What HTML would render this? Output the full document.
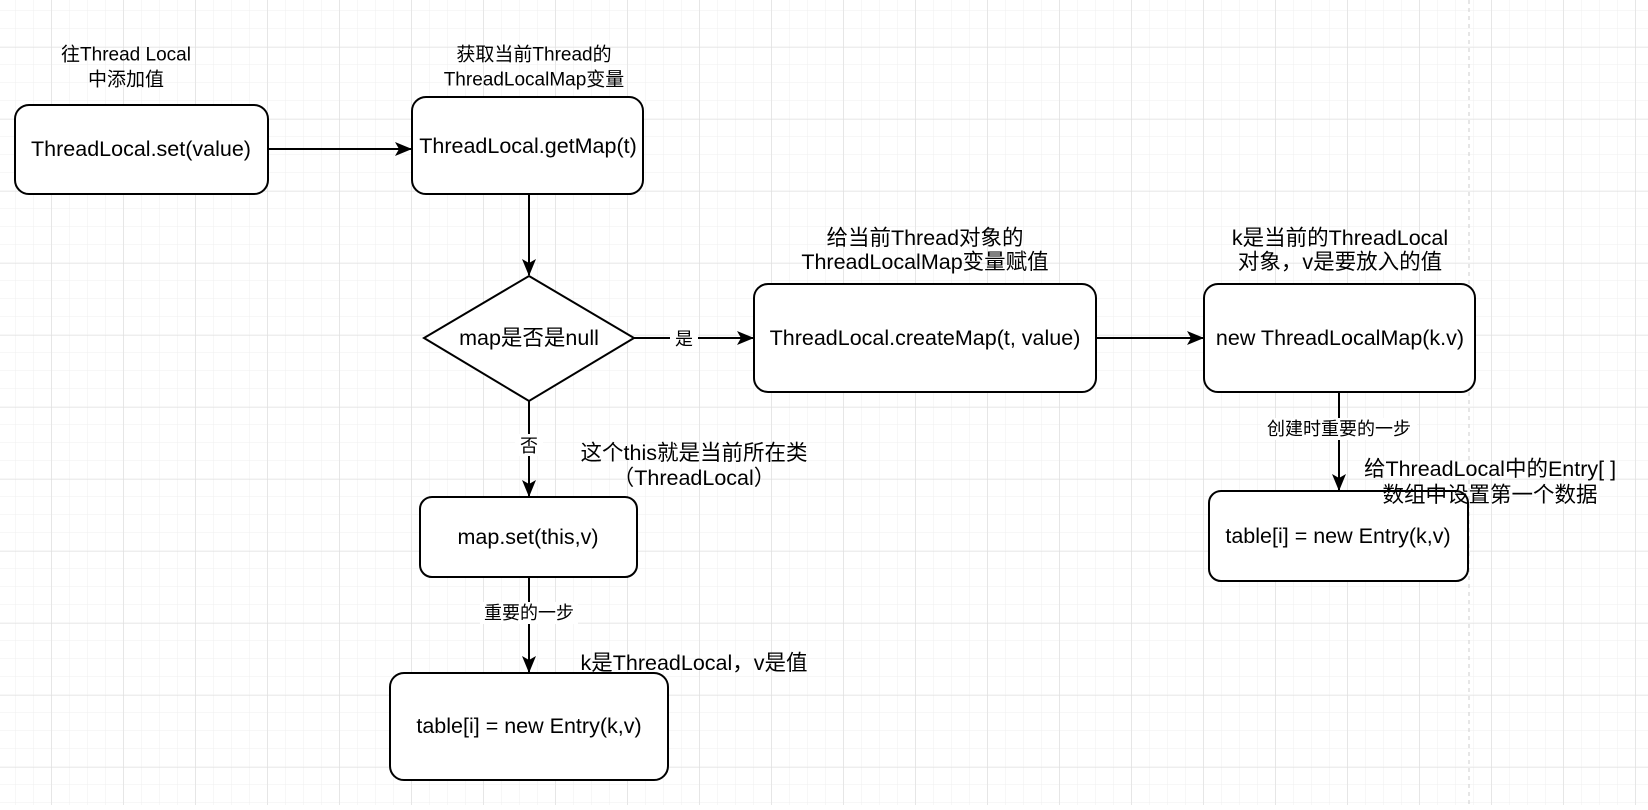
<!DOCTYPE html><html><head><meta charset="utf-8"><style>
body{margin:0;width:1648px;height:805px;overflow:hidden;background:#fff;font-family:"Liberation Sans","Noto Sans CJK SC",sans-serif;}
</style></head><body>
<svg width="1648" height="805" xmlns="http://www.w3.org/2000/svg" font-family="Liberation Sans, Noto Sans CJK SC, sans-serif">
<defs>
<pattern id="g" x="15.5" y="11" width="18" height="18" patternUnits="userSpaceOnUse"><path d="M18 0V18M0 18H18" fill="none" stroke="#efefef" stroke-width="1"/></pattern>
<pattern id="G" x="51.5" y="47" width="72" height="72" patternUnits="userSpaceOnUse"><path d="M0 0V72M0 0H72" fill="none" stroke="#dedede" stroke-width="1"/></pattern>
<marker id="a" markerWidth="18" markerHeight="18" refX="16" refY="8" orient="auto" markerUnits="userSpaceOnUse"><path d="M0 1L17 8L0 15L4 8Z" fill="#000"/></marker>
</defs>
<rect width="1648" height="805" fill="url(#g)"/>
<rect width="1648" height="805" fill="url(#G)"/>
<line x1="1469" y1="0" x2="1469" y2="805" stroke="#ccc" stroke-dasharray="4 4"/>
<g fill="#fff" stroke="#000" stroke-width="2">
<rect x="15" y="105" width="253" height="89" rx="14"/>
<rect x="412" y="97" width="231" height="97" rx="14"/>
<polygon points="529,276 634,338 529,401 424,338"/>
<rect x="754" y="284" width="342" height="108" rx="14"/>
<rect x="1204" y="284" width="271" height="108" rx="14"/>
<rect x="420" y="497" width="217" height="80" rx="12"/>
<rect x="390" y="673" width="278" height="107" rx="14"/>
<rect x="1209" y="491" width="259" height="90" rx="12"/>
</g>
<g stroke="#000" stroke-width="2" marker-end="url(#a)">
<line x1="268" y1="149" x2="411" y2="149"/>
<line x1="529" y1="194" x2="529" y2="275"/>
<line x1="634" y1="338" x2="753" y2="338"/>
<line x1="1096" y1="338" x2="1203" y2="338"/>
<line x1="529" y1="401" x2="529" y2="496"/>
<line x1="529" y1="577" x2="529" y2="672"/>
<line x1="1339" y1="392" x2="1339" y2="490"/>
</g>
<g font-size="18" text-anchor="middle" dominant-baseline="central">
<rect x="670" y="328" width="28" height="22" fill="#fff"/><text x="684" y="339">是</text>
<rect x="515" y="434" width="28" height="22" fill="#fff"/><text x="529" y="446">否</text>
<rect x="480" y="602" width="98" height="22" fill="#fff"/><text x="529" y="613">重要的一步</text>
<rect x="1261" y="418" width="156" height="22" fill="#fff"/><text x="1339" y="429">创建时重要的一步</text>
</g>
<g font-size="21.5" text-anchor="middle" dominant-baseline="central">
<text x="141" y="149">ThreadLocal.set(value)</text>
<text x="528" y="146">ThreadLocal.getMap(t)</text>
<text x="529" y="338">map是否是null</text>
<text x="925" y="338">ThreadLocal.createMap(t, value)</text>
<text x="1340" y="338">new ThreadLocalMap(k.v)</text>
<text x="528" y="537">map.set(this,v)</text>
<text x="529" y="726">table[i] = new Entry(k,v)</text>
<text x="1338" y="536">table[i] = new Entry(k,v)</text>
<text x="925" y="238">给当前Thread对象的</text><text x="925" y="262">ThreadLocalMap变量赋值</text>
<text x="1340" y="238">k是当前的ThreadLocal</text><text x="1340" y="262">对象，v是要放入的值</text>
<text x="694" y="453">这个this就是当前所在类</text><text x="694" y="478">（ThreadLocal）</text>
<text x="694" y="663">k是ThreadLocal，v是值</text>
<text x="1490" y="469">给ThreadLocal中的Entry[ ]</text><text x="1490" y="495">数组中设置第一个数据</text>
</g>
<g font-size="19" text-anchor="middle" dominant-baseline="central">
<text x="126" y="55">往Thread Local</text><text x="126" y="80">中添加值</text>
<text x="534" y="55">获取当前Thread的</text><text x="534" y="80">ThreadLocalMap变量</text>
</g>
</svg>
</body></html>
